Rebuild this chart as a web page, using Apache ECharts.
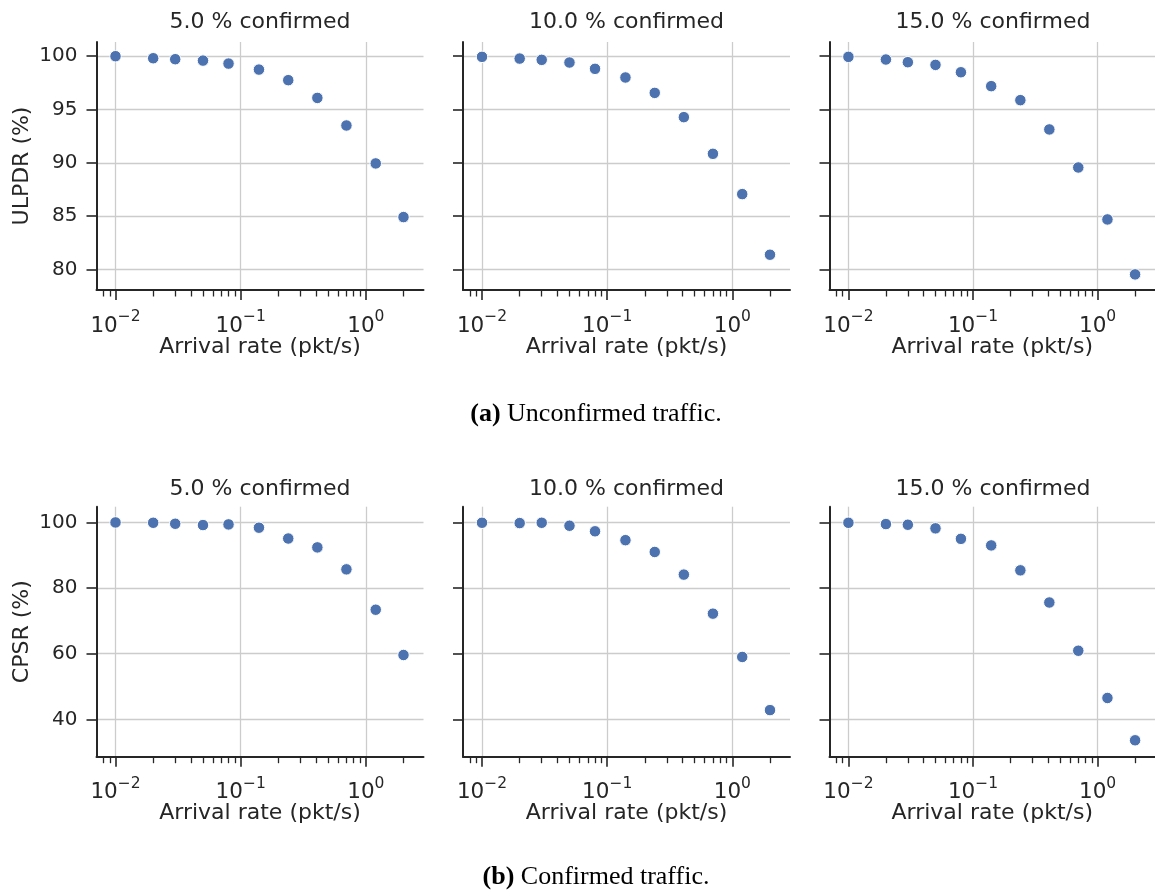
<!DOCTYPE html>
<html>
<head>
<meta charset="utf-8">
<script src="https://cdn.jsdelivr.net/npm/echarts@6/dist/echarts.min.js"></script>
<style>
  html, body { margin: 0; padding: 0; background: #ffffff; }
  #chart { width: 1155px; height: 893px; }
</style>
</head>
<body>
<div id="chart"></div>
<script>
// Arrival rates (pkt/s) shared by every panel
const arrivalRates = [0.01, 0.02, 0.03, 0.05, 0.08, 0.14, 0.24, 0.41, 0.7, 1.2, 2.0];

// Panel titles (share of confirmed traffic)
const panelTitles = ['5.0 % confirmed', '10.0 % confirmed', '15.0 % confirmed'];

// (a) Unconfirmed traffic: uplink packet delivery ratio (%)
const ulpdr5  = [99.97, 99.78, 99.69, 99.56, 99.28, 98.72, 97.73, 96.07, 93.49, 89.94, 84.92];
const ulpdr10 = [99.91, 99.75, 99.63, 99.38, 98.79, 97.98, 96.54, 94.27, 90.84, 87.07, 81.40];
const ulpdr15 = [99.91, 99.66, 99.41, 99.16, 98.47, 97.17, 95.86, 93.12, 89.56, 84.70, 79.56];

// (b) Confirmed traffic: confirmed packet success ratio (%)
const cpsr5  = [100.0, 99.9, 99.6, 99.2, 99.4, 98.4, 95.1, 92.4, 85.7, 73.4, 59.6];
const cpsr10 = [99.9, 99.8, 99.9, 99.0, 97.3, 94.6, 91.0, 84.1, 72.2, 59.0, 42.8];
const cpsr15 = [99.9, 99.5, 99.3, 98.2, 95.0, 93.0, 85.4, 75.6, 60.9, 46.5, 33.6];

// Tick values
const ulpdrTicks = [80, 85, 90, 95, 100];
const cpsrTicks = [40, 60, 80, 100];
const xMajorTicks = [0.01, 0.1, 1];
const xMinorTicks = [0.008, 0.009, 0.02, 0.03, 0.04, 0.05, 0.06, 0.07, 0.08, 0.09,
                     0.2, 0.3, 0.4, 0.5, 0.6, 0.7, 0.8, 0.9, 2];

// Row labels and captions
const rowAxisNames = ['ULPDR (%)', 'CPSR (%)'];
const rowCaptions = [['(a)', 'Unconfirmed traffic.'], ['(b)', 'Confirmed traffic.']];

const rows = [
  { values: [ulpdr5, ulpdr10, ulpdr15], ticks: ulpdrTicks, yMin: 78.1, yMax: 101.3 },
  { values: [cpsr5, cpsr10, cpsr15], ticks: cpsrTicks, yMin: 28.6, yMax: 104.8 }
];

// Layout
const X_MIN = 0.00705, X_MAX = 2.89;
const colLefts = [96.5, 463, 829.5];
const panelWidth = 327;
const rowTops = [42, 506.7];
const rowHeights = [248, 250];
const titleCenters = [22.5, 489];
const captionCenters = [414, 877];
const captionX = 596;

const INK = '#262626';
const GRID = '#cccccc';
const DOT = '#4C72B0';
const SANS = '"DejaVu Sans", Verdana, sans-serif';
const SERIF = '"Liberation Serif", "Times New Roman", serif';

function expLabel(v) {
  const e = Math.round(Math.log10(v));
  return '{b|10}{s|' + (e < 0 ? '\u2212' + (-e) : String(e)) + '}';
}

const grids = [], xAxes = [], yAxes = [], series = [], graphics = [];

rows.forEach((row, r) => {
  row.values.forEach((vals, c) => {
    const gi = grids.length;
    grids.push({ left: colLefts[c], top: rowTops[r], width: panelWidth, height: rowHeights[r], containLabel: false });

    // main log axis: spine, decade ticks, labels, grid lines
    xAxes.push({
      type: 'log', logBase: 10, gridIndex: gi, min: X_MIN, max: X_MAX, position: 'bottom',
      name: 'Arrival rate (pkt/s)', nameLocation: 'middle', nameGap: 46, nameMoveOverlap: false,
      nameTextStyle: { fontFamily: SANS, fontSize: 22, color: INK },
      axisLine: { show: true, onZero: false, lineStyle: { color: INK, width: 2 } },
      axisTick: { show: true, inside: false, length: 10, customValues: xMajorTicks, lineStyle: { color: INK, width: 1.6 } },
      axisLabel: {
        show: true, customValues: xMajorTicks, margin: 13, formatter: expLabel,
        rich: {
          b: { fontFamily: SANS, fontSize: 21.5, color: INK, lineHeight: 34, verticalAlign: 'bottom' },
          s: { fontFamily: SANS, fontSize: 15.5, color: INK, lineHeight: 15, verticalAlign: 'top', padding: [6, 0, 0, 0] }
        }
      },
      splitLine: { show: true, lineStyle: { color: GRID, width: 1.3 } },
      minorTick: { show: false }
    });
    // companion axis carrying the minor ticks between decades
    xAxes.push({
      type: 'log', logBase: 10, gridIndex: gi, min: X_MIN, max: X_MAX, position: 'bottom', offset: 0,
      axisLine: { show: false },
      axisTick: { show: true, inside: false, length: 6.5, customValues: xMinorTicks, lineStyle: { color: INK, width: 1.3 } },
      axisLabel: { show: false },
      splitLine: { show: false }
    });

    yAxes.push({
      type: 'value', gridIndex: gi, min: row.yMin, max: row.yMax,
      name: c === 0 ? rowAxisNames[r] : '', nameLocation: 'middle', nameGap: 63, nameMoveOverlap: false,
      nameTextStyle: { fontFamily: SANS, fontSize: 22, color: INK },
      axisLine: { show: true, onZero: false, lineStyle: { color: INK, width: 2 } },
      axisTick: { show: true, inside: false, length: 10, customValues: row.ticks, lineStyle: { color: INK, width: 1.6 } },
      axisLabel: { show: c === 0, customValues: row.ticks, margin: 19, fontFamily: SANS, fontSize: 20, color: INK },
      splitLine: { show: true, lineStyle: { color: GRID, width: 1.3 } }
    });

    series.push({
      type: 'scatter', xAxisIndex: 2 * gi, yAxisIndex: gi,
      symbol: 'circle', symbolSize: 11.5,
      itemStyle: { color: DOT, borderColor: '#ffffff', borderWidth: 1, opacity: 1 },
      data: arrivalRates.map((x, i) => [x, vals[i]]),
      z: 3
    });

    graphics.push({
      type: 'text', x: colLefts[c] + panelWidth / 2, y: titleCenters[r],
      style: { text: panelTitles[c], fontFamily: SANS, fontSize: 22, fill: INK, align: 'center', verticalAlign: 'middle' }
    });
  });

  graphics.push({
    type: 'text', x: captionX, y: captionCenters[r],
    style: {
      text: '{b|' + rowCaptions[r][0] + '} ' + rowCaptions[r][1],
      fontFamily: SERIF, fontSize: 26, fill: '#000000', align: 'center', verticalAlign: 'middle',
      rich: { b: { fontFamily: SERIF, fontSize: 26, fontWeight: 'bold', fill: '#000000' } }
    }
  });
});

const chart = echarts.init(document.getElementById('chart'), null, { renderer: 'canvas' });
chart.setOption({
  backgroundColor: '#ffffff',
  animation: false,
  grid: grids,
  xAxis: xAxes,
  yAxis: yAxes,
  series: series,
  graphic: graphics
});
</script>
</body>
</html>
